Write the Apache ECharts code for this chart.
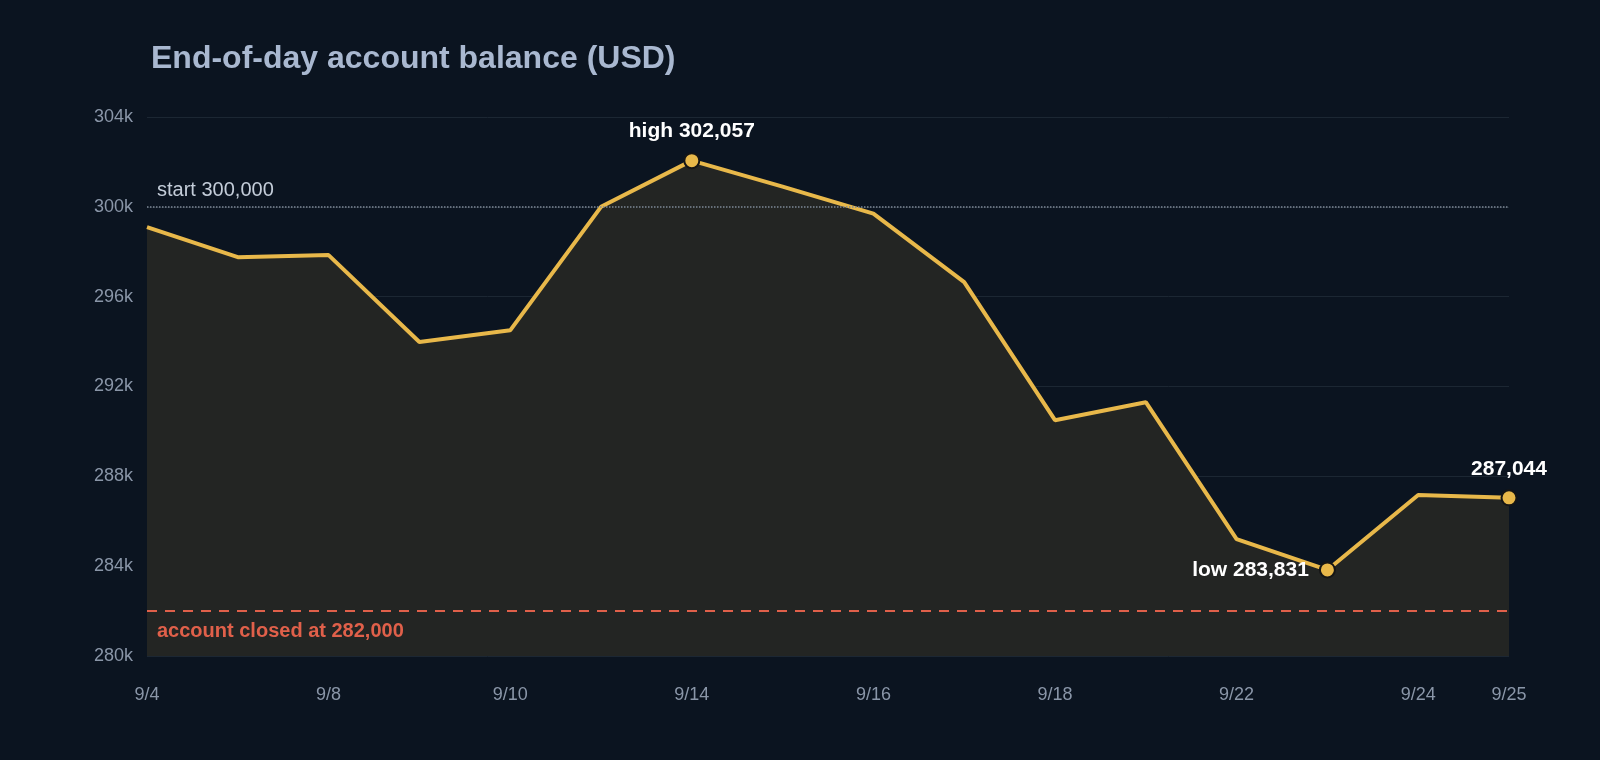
<!DOCTYPE html>
<html><head><meta charset="utf-8">
<script src="https://cdn.jsdelivr.net/npm/echarts@6/dist/echarts.min.js"></script>
<style>html,body{margin:0;background:#0b1420}#c{width:1600px;height:760px}</style>
</head><body><div id="c"></div>
<script>
const dates = ['9/4','9/5','9/8','9/9','9/10','9/11','9/14','9/15','9/16','9/17','9/18','9/21','9/22','9/23','9/24','9/25'];
const balance = [299100,297760,297850,293980,294500,300000,302057,300900,299700,296650,290500,291300,285200,283831,287170,287044];
const startBalance = 300000;
const closedAt = 282000;
const yTicks = [280000,284000,288000,292000,296000,300000,304000];
const highIdx = 6, lowIdx = 13, lastIdx = 15;
const fmt = v => v.toLocaleString('en-US');
const gold = '#e8b84a';
const mp = (i, text, pos) => ({coord:[i, balance[i]], value: balance[i],
  label:{show:true, formatter:text, position:pos, color:'#ffffff', fontWeight:'bold', fontSize:21, distance:10}});
const chart = echarts.init(document.getElementById('c'));
chart.setOption({
  backgroundColor:'#0b1420',
  title:{text:'End-of-day account balance (USD)', left:146, top:38,
    textStyle:{color:'#a9b8d0', fontSize:32, fontWeight:'bold', fontFamily:'Liberation Sans, Arial'}},
  textStyle:{fontFamily:'Liberation Sans, Arial'},
  grid:{left:147, right:91, top:117, bottom:104},
  xAxis:{type:'category', data:dates, boundaryGap:false,
    axisLine:{show:false}, axisTick:{show:false},
    axisLabel:{color:'#8a96a8', fontSize:18, margin:30,
      interval:(i)=> i%2===0 || i===dates.length-1}},
  yAxis:{type:'value', min:yTicks[0], max:yTicks[yTicks.length-1], interval:4000,
    axisLabel:{color:'#8a96a8', fontSize:18, margin:14, formatter:v=>(v/1000)+'k'},
    splitLine:{lineStyle:{color:'#1c2733', width:1}}},
  series:[{type:'line', data:balance, symbol:'none', z:3,
    lineStyle:{color:gold, width:4},
    areaStyle:{color:'#232523', opacity:1},
    markLine:{silent:true, symbol:'none', data:[
      {yAxis:startBalance, lineStyle:{color:'#7d8896', type:'dotted', width:1.5},
       label:{position:'insideStartTop', formatter:'start 300,000', color:'#c4cdd9', fontSize:20, distance:[10,6]}},
      {yAxis:closedAt, lineStyle:{color:'#e0604a', type:[10,8], width:2},
       label:{position:'insideStartBottom', formatter:'account closed at 282,000', color:'#e0604a', fontSize:20, fontWeight:'bold', distance:[10,10]}}
    ]},
    markPoint:{symbol:'circle', symbolSize:15,
      itemStyle:{color:gold, borderColor:'#151515', borderWidth:2},
      data:[mp(highIdx,'high '+fmt(balance[highIdx]),'top'),
            mp(lowIdx,'low '+fmt(balance[lowIdx]),'left'),
            mp(lastIdx,fmt(balance[lastIdx]),'top')]}
  }]
});
</script></body></html>
